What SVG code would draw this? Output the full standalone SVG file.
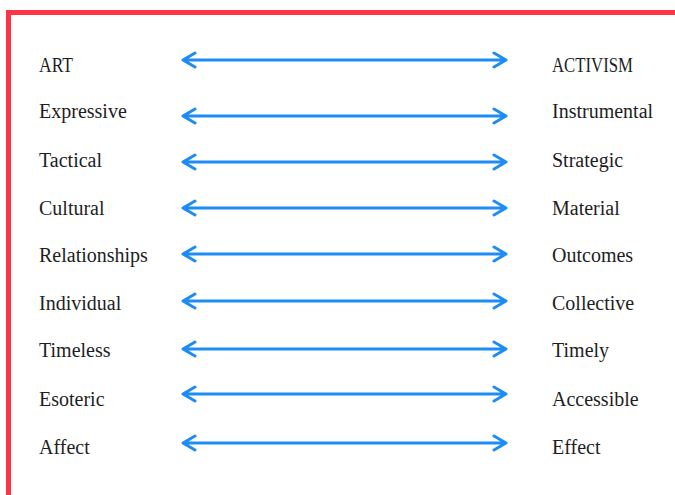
<svg xmlns="http://www.w3.org/2000/svg" width="675" height="495" viewBox="0 0 675 495">
  <defs>
    <style>
      .lbl { font-family: "Liberation Serif", "DejaVu Serif", serif; font-size: 20px; fill: #1e1e1e; }
      .arrow { fill: none; stroke: #1e8cf5; stroke-width: 3; stroke-linecap: round; stroke-linejoin: round; }
      .frame { fill: #fe3448; }
    </style>
    <!-- one double-headed arrow drawn around y=0 -->
    <g id="dbl">
      <path class="arrow" d="M183,0 H506 M195,-7 L183,0 L195,7 M494,-7 L506,0 L494,7"/>
    </g>
  </defs>

  <rect width="675" height="495" fill="#ffffff"/>

  <!-- frame: left and top bars -->
  <g id="frame">
    <rect class="frame" x="6" y="10" width="5" height="485"/>
    <rect class="frame" x="6" y="10" width="669" height="5"/>
  </g>

  <!-- connectors -->
  <g id="connectors">
    <use href="#dbl" y="60"/>
    <use href="#dbl" y="116"/>
    <use href="#dbl" y="162"/>
    <use href="#dbl" y="208"/>
    <use href="#dbl" y="254"/>
    <use href="#dbl" y="301"/>
    <use href="#dbl" y="349"/>
    <use href="#dbl" y="394"/>
    <use href="#dbl" y="443"/>
  </g>

  <!-- left column -->
  <g id="art"><text class="lbl" x="39" y="72" textLength="34" lengthAdjust="spacingAndGlyphs">ART</text></g>
  <g id="expressive"><text class="lbl" x="39" y="118">Expressive</text></g>
  <g id="tactical"><text class="lbl" x="39" y="167">Tactical</text></g>
  <g id="cultural"><text class="lbl" x="39" y="215">Cultural</text></g>
  <g id="relationships"><text class="lbl" x="39" y="262">Relationships</text></g>
  <g id="individual"><text class="lbl" x="39" y="310">Individual</text></g>
  <g id="timeless"><text class="lbl" x="39" y="357">Timeless</text></g>
  <g id="esoteric"><text class="lbl" x="39" y="406">Esoteric</text></g>
  <g id="affect"><text class="lbl" x="39" y="454">Affect</text></g>

  <!-- right column -->
  <g id="activism"><text class="lbl" x="552" y="72" textLength="81" lengthAdjust="spacingAndGlyphs">ACTIVISM</text></g>
  <g id="instrumental"><text class="lbl" x="552" y="118">Instrumental</text></g>
  <g id="strategic"><text class="lbl" x="552" y="167">Strategic</text></g>
  <g id="material"><text class="lbl" x="552" y="215">Material</text></g>
  <g id="outcomes"><text class="lbl" x="552" y="262">Outcomes</text></g>
  <g id="collective"><text class="lbl" x="552" y="310">Collective</text></g>
  <g id="timely"><text class="lbl" x="552" y="357">Timely</text></g>
  <g id="accessible"><text class="lbl" x="552" y="406">Accessible</text></g>
  <g id="effect"><text class="lbl" x="552" y="454">Effect</text></g>
</svg>
